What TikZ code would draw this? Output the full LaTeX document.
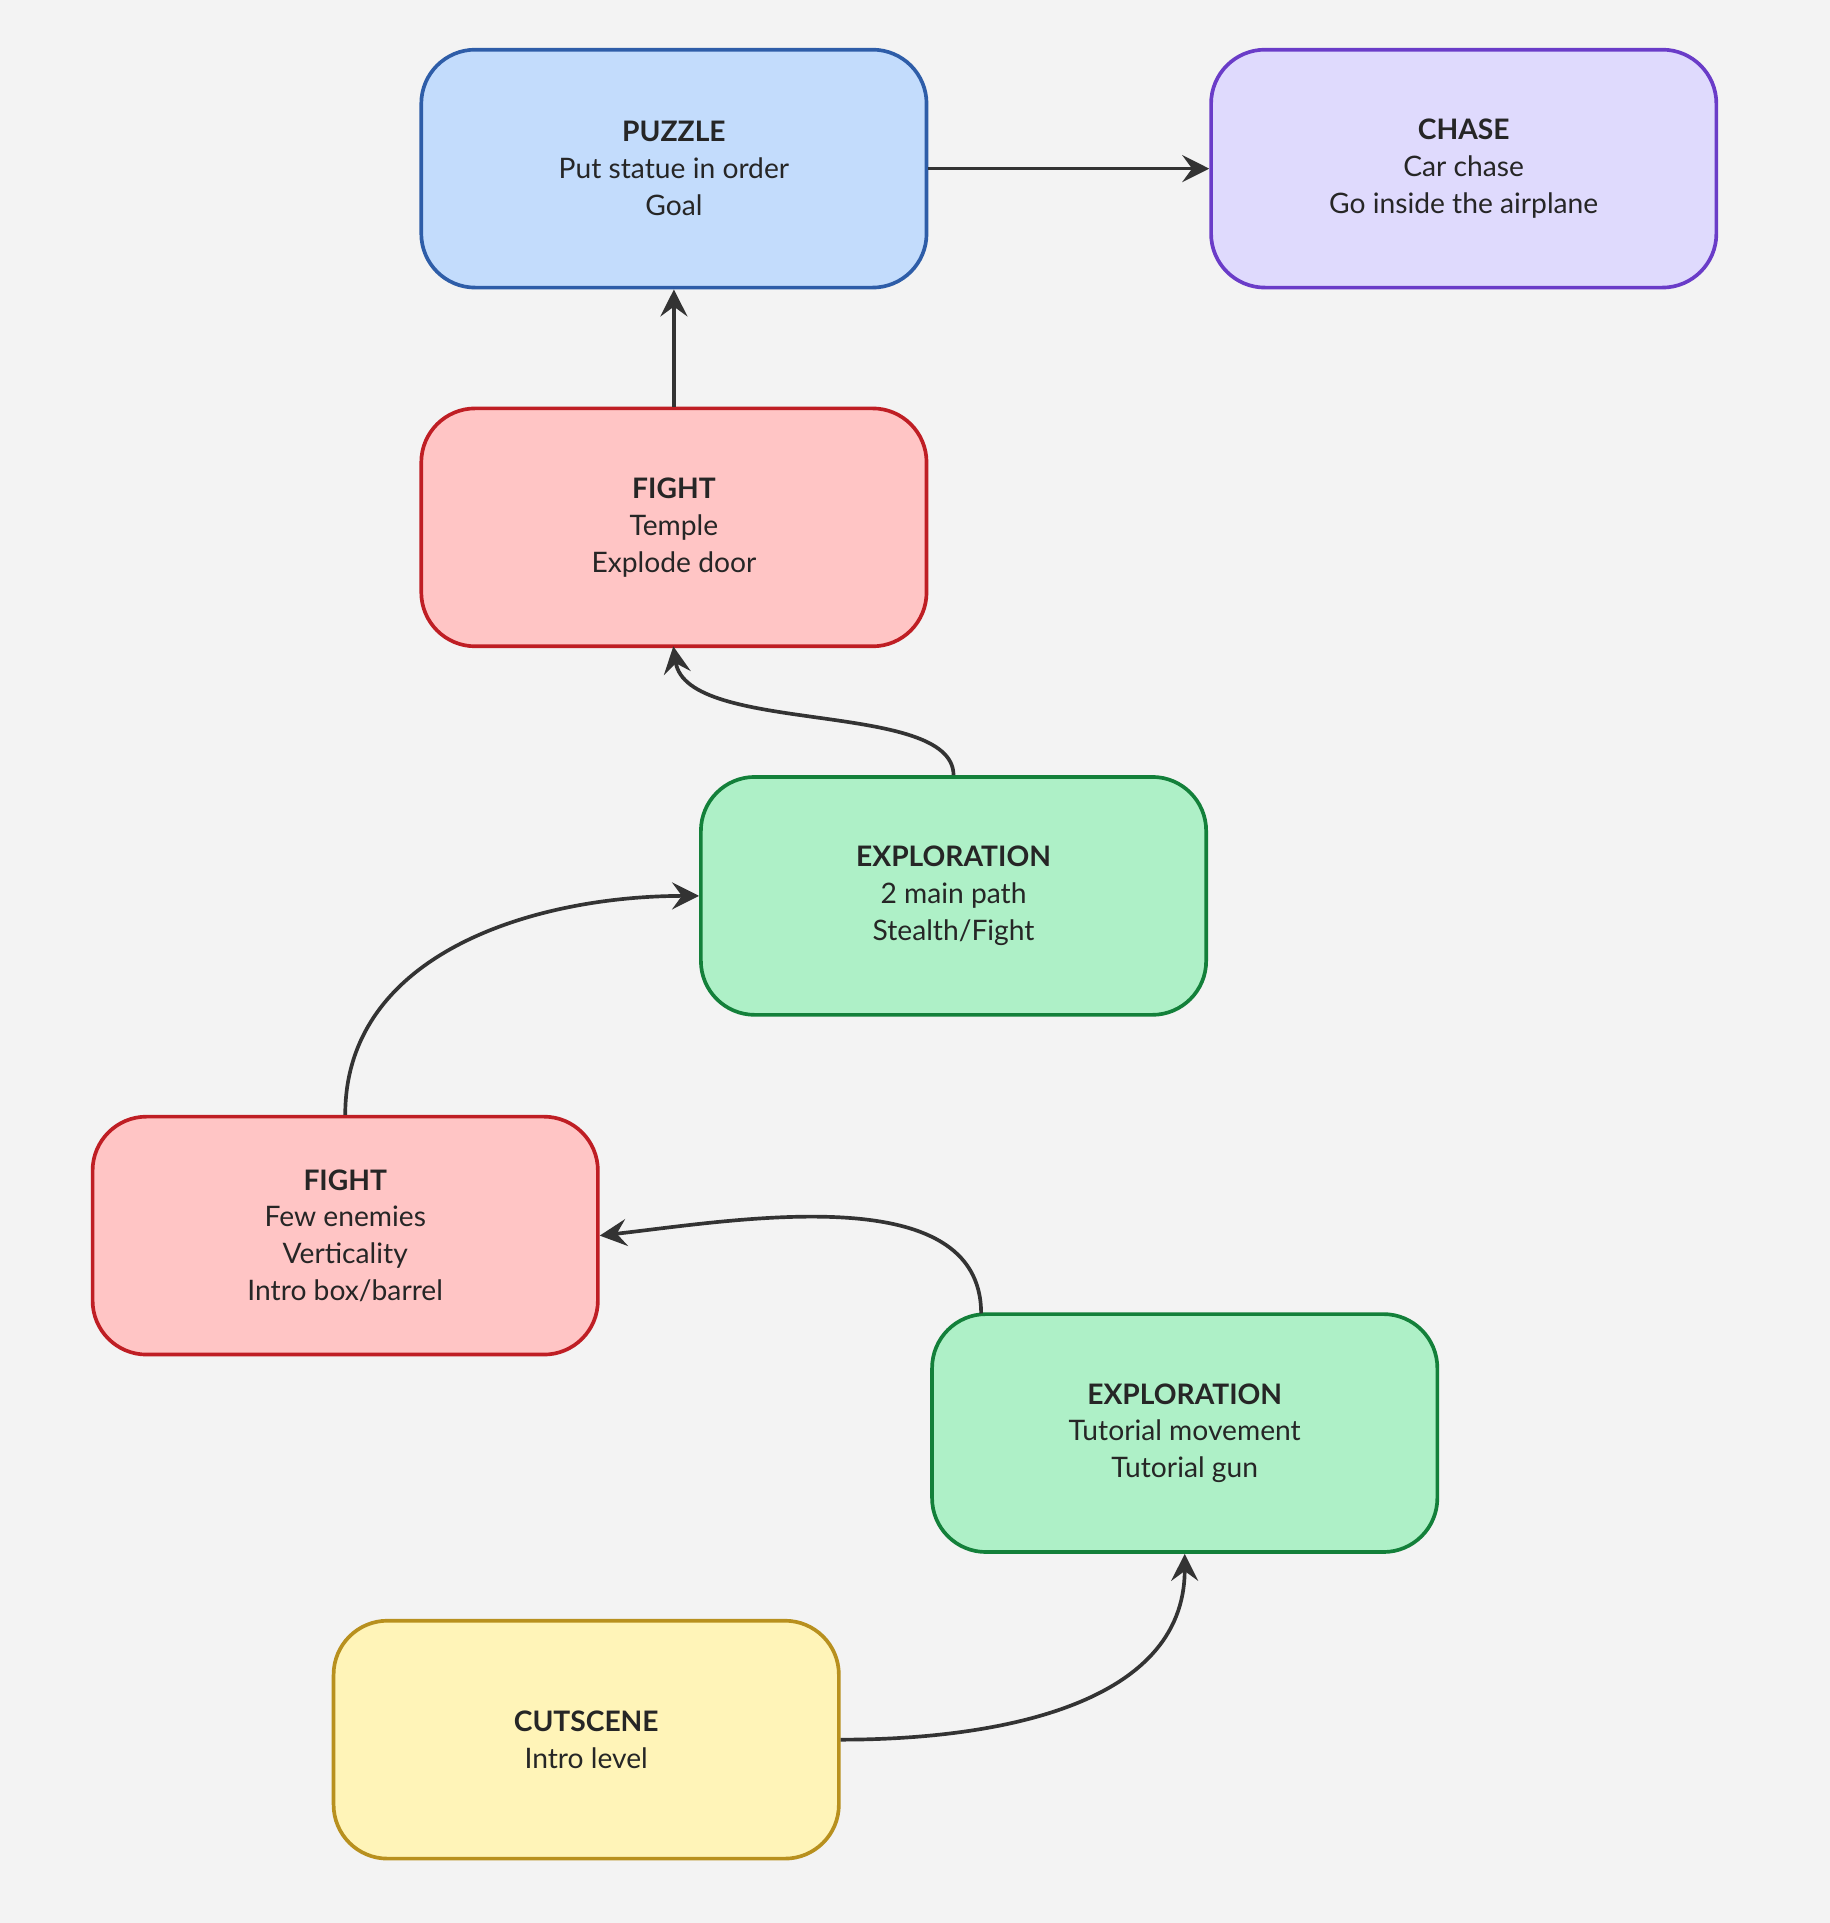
\documentclass[tikz,border=0pt]{standalone}
\usepackage{fontspec}
\setmainfont{Lato}
\usetikzlibrary{arrows.meta}
\definecolor{bg}{HTML}{F3F3F3}
\definecolor{pzf}{HTML}{C3DCFC}\definecolor{pzd}{HTML}{2E5DA8}
\definecolor{chf}{HTML}{DFDAFD}\definecolor{chd}{HTML}{6A3CC8}
\definecolor{fif}{HTML}{FFC5C5}\definecolor{fid}{HTML}{BF1E24}
\definecolor{exf}{HTML}{AEF0C7}\definecolor{exd}{HTML}{13803A}
\definecolor{cuf}{HTML}{FFF4B8}\definecolor{cud}{HTML}{B8901E}
\definecolor{ln}{HTML}{333333}
\begin{document}
\begin{tikzpicture}[x=0.5pt,y=0.5pt,
 box/.style={rounded corners=22pt,line width=1.5pt,minimum width=206pt,minimum height=97pt,align=center,font=\fontsize{11.5}{15}\selectfont,text=black!85},
 pz/.style={box,fill=pzf,draw=pzd}, ch/.style={box,fill=chf,draw=chd},
 fi/.style={box,fill=fif,draw=fid}, ex/.style={box,fill=exf,draw=exd},
 cu/.style={box,fill=cuf,draw=cud},
 ar/.style={draw=ln,line width=1.5pt,-{Stealth[length=11pt,width=11pt,inset=4pt]}}]
\fill[bg] (0,0) rectangle (1492,-1568);
\useasboundingbox (0,0) rectangle (1492,-1568);
\node[pz] (puz) at (549.5,-137.5) {\textbf{PUZZLE}\\Put statue in order\\Goal};
\node[ch] (cha) at (1193.5,-137.5) {\textbf{CHASE}\\Car chase\\Go inside the airplane};
\node[fi] (f1) at (549.5,-430) {\textbf{FIGHT}\\Temple\\Explode door};
\node[ex] (e1) at (777.5,-730.5) {\textbf{EXPLORATION}\\2 main path\\Stealth/Fight};
\node[fi] (f2) at (281.5,-1007.5) {\textbf{FIGHT}\\Few enemies\\Verticality\\Intro box/barrel};
\node[ex] (e2) at (966,-1168.5) {\textbf{EXPLORATION}\\Tutorial movement\\Tutorial gun};
\node[cu] (cut) at (478,-1418.5) {\textbf{CUTSCENE}\\Intro level};
\coordinate (e2t) at (800,-1071);
\draw[ar] (puz.east) -- (cha.west);
\draw[ar] (f1.north) -- (puz.south);
\draw[ar] (e1.north) .. controls (777,-570) and (560,-600) .. (549,-527);
\draw[ar] (f2.north) to[out=90,in=180] (e1.west);
\draw[ar] (e2t) .. controls (800,-960) and (600,-995) .. (f2.east);
\draw[ar] (cut.east) to[out=0,in=-90] (e2.south);
\end{tikzpicture}
\end{document}
